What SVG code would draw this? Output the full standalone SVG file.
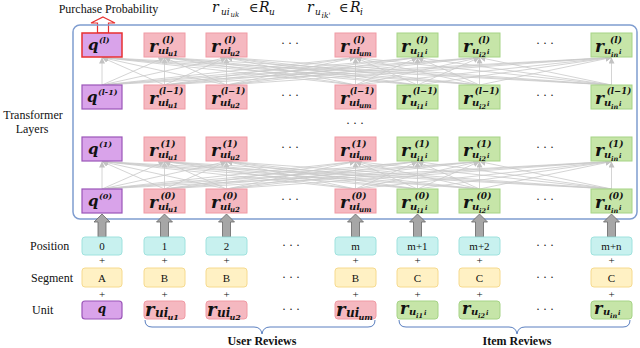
<svg xmlns="http://www.w3.org/2000/svg" width="640" height="348" viewBox="0 0 640 348">
<defs>
<style>
.t{font-family:"Liberation Serif","DejaVu Serif",serif;fill:#111}
.m{font-family:"DejaVu Serif","Liberation Serif",serif;font-style:italic;font-weight:bold;fill:#111}
.mn{font-family:"DejaVu Serif","Liberation Serif",serif;font-style:italic;fill:#111}
.b{font-family:"Liberation Serif","DejaVu Serif",serif;font-weight:bold;fill:#111}
.pq{fill:#d9a3ea;stroke:#9a55b8;stroke-width:1.2}
.pk{fill:#f5b8c0;stroke:#f09aa4;stroke-width:1}
.gr{fill:#c6e5a8;stroke:#a6d386;stroke-width:1}
.cy{fill:#c8f1ef;stroke:#9fe2de;stroke-width:1}
.ye{fill:#fff1c4;stroke:#f6da8e;stroke-width:1}
.c line{stroke:#c9c9c9;stroke-width:0.8;marker-end:url(#ah)}
.ba{fill:#a6a6a6;stroke:#666;stroke-width:0.8}
.br{fill:none;stroke:#5a7fc0;stroke-width:1}
</style>
<marker id="ah" markerUnits="userSpaceOnUse" markerWidth="6" markerHeight="6" refX="6" refY="3" orient="auto"><path d="M0,0 L6,3 L0,6 z" fill="#c2c2c2"/></marker>
</defs>
<rect width="640" height="348" fill="#fff"/>

<!-- top labels -->
<text class="t" x="108.5" y="13" font-size="12" text-anchor="middle">Purchase Probability</text>
<g id="lbl-ru">
<text class="mn" x="212" y="12" font-size="14">r</text>
<text class="mn" x="221" y="15" font-size="9">ui</text>
<text class="mn" x="230.5" y="17" font-size="7">uk</text>
<text class="t" x="249" y="12" font-size="13">∈</text>
<text class="mn" x="259" y="12" font-size="14">R</text>
<text class="mn" x="269" y="15" font-size="9">u</text>
</g>
<g id="lbl-ri">
<text class="mn" x="307" y="12" font-size="14">r</text>
<text class="mn" x="315" y="15" font-size="9">u</text>
<text class="mn" x="321.5" y="18" font-size="7.5">ik'</text>
<text class="t" x="339" y="12" font-size="13">∈</text>
<text class="mn" x="350" y="12" font-size="14">R</text>
<text class="mn" x="360" y="15" font-size="9">i</text>
</g>
<polygon id="out-arrow" points="103,17 115,23 108.5,23 108.5,33 97.5,33 97.5,23 91,23" fill="#fff" stroke="#e83030" stroke-width="1.2"/>

<text class="t" x="33" y="119" font-size="12" text-anchor="middle">Transformer</text>
<text class="t" x="32" y="133" font-size="12" text-anchor="middle">Layers</text>

<rect id="frame" x="73" y="25" width="564" height="194" rx="7" fill="none" stroke="#7f9dd0" stroke-width="1.5"/>

<!-- connectors -->
<g id="connectors" class="c">
<g id="mesh-top">
<line x1="102" y1="85" x2="102" y2="57.5"/><line x1="102" y1="85" x2="164.5" y2="57.5"/><line x1="102" y1="85" x2="226.5" y2="57.5"/><line x1="102" y1="85" x2="355.5" y2="57.5"/><line x1="102" y1="85" x2="417.5" y2="57.5"/><line x1="102" y1="85" x2="479.5" y2="57.5"/><line x1="102" y1="85" x2="611.5" y2="57.5"/>
<line x1="164.5" y1="85" x2="102" y2="57.5"/><line x1="164.5" y1="85" x2="164.5" y2="57.5"/><line x1="164.5" y1="85" x2="226.5" y2="57.5"/><line x1="164.5" y1="85" x2="355.5" y2="57.5"/><line x1="164.5" y1="85" x2="417.5" y2="57.5"/><line x1="164.5" y1="85" x2="479.5" y2="57.5"/><line x1="164.5" y1="85" x2="611.5" y2="57.5"/>
<line x1="226.5" y1="85" x2="102" y2="57.5"/><line x1="226.5" y1="85" x2="164.5" y2="57.5"/><line x1="226.5" y1="85" x2="226.5" y2="57.5"/><line x1="226.5" y1="85" x2="355.5" y2="57.5"/><line x1="226.5" y1="85" x2="417.5" y2="57.5"/><line x1="226.5" y1="85" x2="479.5" y2="57.5"/><line x1="226.5" y1="85" x2="611.5" y2="57.5"/>
<line x1="355.5" y1="85" x2="102" y2="57.5"/><line x1="355.5" y1="85" x2="164.5" y2="57.5"/><line x1="355.5" y1="85" x2="226.5" y2="57.5"/><line x1="355.5" y1="85" x2="355.5" y2="57.5"/><line x1="355.5" y1="85" x2="417.5" y2="57.5"/><line x1="355.5" y1="85" x2="479.5" y2="57.5"/><line x1="355.5" y1="85" x2="611.5" y2="57.5"/>
<line x1="417.5" y1="85" x2="102" y2="57.5"/><line x1="417.5" y1="85" x2="164.5" y2="57.5"/><line x1="417.5" y1="85" x2="226.5" y2="57.5"/><line x1="417.5" y1="85" x2="355.5" y2="57.5"/><line x1="417.5" y1="85" x2="417.5" y2="57.5"/><line x1="417.5" y1="85" x2="479.5" y2="57.5"/><line x1="417.5" y1="85" x2="611.5" y2="57.5"/>
<line x1="479.5" y1="85" x2="102" y2="57.5"/><line x1="479.5" y1="85" x2="164.5" y2="57.5"/><line x1="479.5" y1="85" x2="226.5" y2="57.5"/><line x1="479.5" y1="85" x2="355.5" y2="57.5"/><line x1="479.5" y1="85" x2="417.5" y2="57.5"/><line x1="479.5" y1="85" x2="479.5" y2="57.5"/><line x1="479.5" y1="85" x2="611.5" y2="57.5"/>
<line x1="611.5" y1="85" x2="102" y2="57.5"/><line x1="611.5" y1="85" x2="164.5" y2="57.5"/><line x1="611.5" y1="85" x2="226.5" y2="57.5"/><line x1="611.5" y1="85" x2="355.5" y2="57.5"/><line x1="611.5" y1="85" x2="417.5" y2="57.5"/><line x1="611.5" y1="85" x2="479.5" y2="57.5"/><line x1="611.5" y1="85" x2="611.5" y2="57.5"/>
</g>
<g id="mesh-bottom">
<line x1="102" y1="189" x2="102" y2="161.5"/><line x1="102" y1="189" x2="164.5" y2="161.5"/><line x1="102" y1="189" x2="226.5" y2="161.5"/><line x1="102" y1="189" x2="355.5" y2="161.5"/><line x1="102" y1="189" x2="417.5" y2="161.5"/><line x1="102" y1="189" x2="479.5" y2="161.5"/><line x1="102" y1="189" x2="611.5" y2="161.5"/>
<line x1="164.5" y1="189" x2="102" y2="161.5"/><line x1="164.5" y1="189" x2="164.5" y2="161.5"/><line x1="164.5" y1="189" x2="226.5" y2="161.5"/><line x1="164.5" y1="189" x2="355.5" y2="161.5"/><line x1="164.5" y1="189" x2="417.5" y2="161.5"/><line x1="164.5" y1="189" x2="479.5" y2="161.5"/><line x1="164.5" y1="189" x2="611.5" y2="161.5"/>
<line x1="226.5" y1="189" x2="102" y2="161.5"/><line x1="226.5" y1="189" x2="164.5" y2="161.5"/><line x1="226.5" y1="189" x2="226.5" y2="161.5"/><line x1="226.5" y1="189" x2="355.5" y2="161.5"/><line x1="226.5" y1="189" x2="417.5" y2="161.5"/><line x1="226.5" y1="189" x2="479.5" y2="161.5"/><line x1="226.5" y1="189" x2="611.5" y2="161.5"/>
<line x1="355.5" y1="189" x2="102" y2="161.5"/><line x1="355.5" y1="189" x2="164.5" y2="161.5"/><line x1="355.5" y1="189" x2="226.5" y2="161.5"/><line x1="355.5" y1="189" x2="355.5" y2="161.5"/><line x1="355.5" y1="189" x2="417.5" y2="161.5"/><line x1="355.5" y1="189" x2="479.5" y2="161.5"/><line x1="355.5" y1="189" x2="611.5" y2="161.5"/>
<line x1="417.5" y1="189" x2="102" y2="161.5"/><line x1="417.5" y1="189" x2="164.5" y2="161.5"/><line x1="417.5" y1="189" x2="226.5" y2="161.5"/><line x1="417.5" y1="189" x2="355.5" y2="161.5"/><line x1="417.5" y1="189" x2="417.5" y2="161.5"/><line x1="417.5" y1="189" x2="479.5" y2="161.5"/><line x1="417.5" y1="189" x2="611.5" y2="161.5"/>
<line x1="479.5" y1="189" x2="102" y2="161.5"/><line x1="479.5" y1="189" x2="164.5" y2="161.5"/><line x1="479.5" y1="189" x2="226.5" y2="161.5"/><line x1="479.5" y1="189" x2="355.5" y2="161.5"/><line x1="479.5" y1="189" x2="417.5" y2="161.5"/><line x1="479.5" y1="189" x2="479.5" y2="161.5"/><line x1="479.5" y1="189" x2="611.5" y2="161.5"/>
<line x1="611.5" y1="189" x2="102" y2="161.5"/><line x1="611.5" y1="189" x2="164.5" y2="161.5"/><line x1="611.5" y1="189" x2="226.5" y2="161.5"/><line x1="611.5" y1="189" x2="355.5" y2="161.5"/><line x1="611.5" y1="189" x2="417.5" y2="161.5"/><line x1="611.5" y1="189" x2="479.5" y2="161.5"/><line x1="611.5" y1="189" x2="611.5" y2="161.5"/>
</g>
<g id="input-arrows">
<polygon class="ba" points="102,214 110,222 106,222 106,237 98,237 98,222 94,222"/>
<polygon class="ba" points="164.5,214 172.5,222 168.5,222 168.5,237 160.5,237 160.5,222 156.5,222"/>
<polygon class="ba" points="226.5,214 234.5,222 230.5,222 230.5,237 222.5,237 222.5,222 218.5,222"/>
<polygon class="ba" points="355.5,214 363.5,222 359.5,222 359.5,237 351.5,237 351.5,222 347.5,222"/>
<polygon class="ba" points="417.5,214 425.5,222 421.5,222 421.5,237 413.5,237 413.5,222 409.5,222"/>
<polygon class="ba" points="479.5,214 487.5,222 483.5,222 483.5,237 475.5,237 475.5,222 471.5,222"/>
<polygon class="ba" points="611.5,214 619.5,222 615.5,222 615.5,237 607.5,237 607.5,222 603.5,222"/>
</g>
</g>

<!-- layer l -->
<g id="q-l"><rect x="82" y="33" width="40" height="24" fill="#d9a3ea" stroke="#e83030" stroke-width="1.5"/><text class="m" x="88" y="50" font-size="15">q</text><text class="m" x="99" y="43" font-size="8">(l)</text></g>
<g id="r-l-u1"><rect class="pk" x="144" y="33" width="41" height="24"/><text class="m" x="149" y="52" font-size="17">r</text><text class="m" x="168" y="43" font-size="9" text-anchor="middle">(l)</text><text class="m" x="158" y="54" font-size="10">ui</text><text class="m" x="168" y="56" font-size="7">u1</text></g>
<g id="r-l-u2"><rect class="pk" x="206" y="33" width="41" height="24"/><text class="m" x="211" y="52" font-size="17">r</text><text class="m" x="230" y="43" font-size="9" text-anchor="middle">(l)</text><text class="m" x="220" y="54" font-size="10">ui</text><text class="m" x="230" y="56" font-size="7">u2</text></g>
<g id="r-l-um"><rect class="pk" x="335" y="33" width="41" height="24"/><text class="m" x="340" y="52" font-size="17">r</text><text class="m" x="359" y="43" font-size="9" text-anchor="middle">(l)</text><text class="m" x="349" y="54" font-size="10">ui</text><text class="m" x="359" y="56" font-size="7">um</text></g>
<g id="r-l-i1"><rect class="gr" x="397" y="33" width="41" height="24"/><text class="m" x="401" y="52" font-size="17">r</text><text class="m" x="422" y="43" font-size="9" text-anchor="middle">(l)</text><text class="m" x="410" y="54" font-size="10">u</text><text class="m" x="417" y="57" font-size="6.5">i1</text><text class="m" x="425" y="54" font-size="6.5">i</text></g>
<g id="r-l-i2"><rect class="gr" x="459" y="33" width="41" height="24"/><text class="m" x="463" y="52" font-size="17">r</text><text class="m" x="484" y="43" font-size="9" text-anchor="middle">(l)</text><text class="m" x="472" y="54" font-size="10">u</text><text class="m" x="479" y="57" font-size="6.5">i2</text><text class="m" x="487" y="54" font-size="6.5">i</text></g>
<g id="r-l-in"><rect class="gr" x="591" y="33" width="41" height="24"/><text class="m" x="595" y="52" font-size="17">r</text><text class="m" x="616" y="43" font-size="9" text-anchor="middle">(l)</text><text class="m" x="604" y="54" font-size="10">u</text><text class="m" x="611" y="57" font-size="6.5">in</text><text class="m" x="619" y="54" font-size="6.5">i</text></g>

<!-- layer l-1 -->
<g id="q-l1"><rect class="pq" x="82" y="85" width="40" height="24"/><text class="m" x="87" y="102" font-size="15">q</text><text class="m" x="98" y="95" font-size="8">(l-1)</text></g>
<g id="r-l1-u1"><rect class="pk" x="144" y="85" width="41" height="24"/><text class="m" x="149" y="104" font-size="17">r</text><text class="m" x="171" y="94" font-size="8.5" text-anchor="middle">(l−1)</text><text class="m" x="158" y="106" font-size="10">ui</text><text class="m" x="168" y="108" font-size="7">u1</text></g>
<g id="r-l1-u2"><rect class="pk" x="206" y="85" width="41" height="24"/><text class="m" x="211" y="104" font-size="17">r</text><text class="m" x="233" y="94" font-size="8.5" text-anchor="middle">(l−1)</text><text class="m" x="220" y="106" font-size="10">ui</text><text class="m" x="230" y="108" font-size="7">u2</text></g>
<g id="r-l1-um"><rect class="pk" x="335" y="85" width="41" height="24"/><text class="m" x="340" y="104" font-size="17">r</text><text class="m" x="362" y="94" font-size="8.5" text-anchor="middle">(l−1)</text><text class="m" x="349" y="106" font-size="10">ui</text><text class="m" x="359" y="108" font-size="7">um</text></g>
<g id="r-l1-i1"><rect class="gr" x="397" y="85" width="41" height="24"/><text class="m" x="401" y="104" font-size="17">r</text><text class="m" x="425" y="94" font-size="8.5" text-anchor="middle">(l−1)</text><text class="m" x="410" y="106" font-size="10">u</text><text class="m" x="417" y="109" font-size="6.5">i1</text><text class="m" x="425" y="106" font-size="6.5">i</text></g>
<g id="r-l1-i2"><rect class="gr" x="459" y="85" width="41" height="24"/><text class="m" x="463" y="104" font-size="17">r</text><text class="m" x="487" y="94" font-size="8.5" text-anchor="middle">(l−1)</text><text class="m" x="472" y="106" font-size="10">u</text><text class="m" x="479" y="109" font-size="6.5">i2</text><text class="m" x="487" y="106" font-size="6.5">i</text></g>
<g id="r-l1-in"><rect class="gr" x="591" y="85" width="41" height="24"/><text class="m" x="595" y="104" font-size="17">r</text><text class="m" x="619" y="94" font-size="8.5" text-anchor="middle">(l−1)</text><text class="m" x="604" y="106" font-size="10">u</text><text class="m" x="611" y="109" font-size="6.5">in</text><text class="m" x="619" y="106" font-size="6.5">i</text></g>

<!-- layer 1 -->
<g id="q-1"><rect class="pq" x="82" y="137" width="40" height="24"/><text class="m" x="88" y="154" font-size="15">q</text><text class="m" x="99" y="147" font-size="8">(1)</text></g>
<g id="r-1-u1"><rect class="pk" x="144" y="137" width="41" height="24"/><text class="m" x="149" y="156" font-size="17">r</text><text class="m" x="168" y="147" font-size="9" text-anchor="middle">(1)</text><text class="m" x="158" y="158" font-size="10">ui</text><text class="m" x="168" y="160" font-size="7">u1</text></g>
<g id="r-1-u2"><rect class="pk" x="206" y="137" width="41" height="24"/><text class="m" x="211" y="156" font-size="17">r</text><text class="m" x="230" y="147" font-size="9" text-anchor="middle">(1)</text><text class="m" x="220" y="158" font-size="10">ui</text><text class="m" x="230" y="160" font-size="7">u2</text></g>
<g id="r-1-um"><rect class="pk" x="335" y="137" width="41" height="24"/><text class="m" x="340" y="156" font-size="17">r</text><text class="m" x="359" y="147" font-size="9" text-anchor="middle">(1)</text><text class="m" x="349" y="158" font-size="10">ui</text><text class="m" x="359" y="160" font-size="7">um</text></g>
<g id="r-1-i1"><rect class="gr" x="397" y="137" width="41" height="24"/><text class="m" x="401" y="156" font-size="17">r</text><text class="m" x="422" y="147" font-size="9" text-anchor="middle">(1)</text><text class="m" x="410" y="158" font-size="10">u</text><text class="m" x="417" y="161" font-size="6.5">i1</text><text class="m" x="425" y="158" font-size="6.5">i</text></g>
<g id="r-1-i2"><rect class="gr" x="459" y="137" width="41" height="24"/><text class="m" x="463" y="156" font-size="17">r</text><text class="m" x="484" y="147" font-size="9" text-anchor="middle">(1)</text><text class="m" x="472" y="158" font-size="10">u</text><text class="m" x="479" y="161" font-size="6.5">i2</text><text class="m" x="487" y="158" font-size="6.5">i</text></g>
<g id="r-1-in"><rect class="gr" x="591" y="137" width="41" height="24"/><text class="m" x="595" y="156" font-size="17">r</text><text class="m" x="616" y="147" font-size="9" text-anchor="middle">(1)</text><text class="m" x="604" y="158" font-size="10">u</text><text class="m" x="611" y="161" font-size="6.5">in</text><text class="m" x="619" y="158" font-size="6.5">i</text></g>

<!-- layer 0 -->
<g id="q-0"><rect class="pq" x="82" y="189" width="40" height="24"/><text class="m" x="88" y="206" font-size="15">q</text><text class="m" x="99" y="199" font-size="8">(0)</text></g>
<g id="r-0-u1"><rect class="pk" x="144" y="189" width="41" height="24"/><text class="m" x="149" y="208" font-size="17">r</text><text class="m" x="168" y="199" font-size="9" text-anchor="middle">(0)</text><text class="m" x="158" y="210" font-size="10">ui</text><text class="m" x="168" y="212" font-size="7">u1</text></g>
<g id="r-0-u2"><rect class="pk" x="206" y="189" width="41" height="24"/><text class="m" x="211" y="208" font-size="17">r</text><text class="m" x="230" y="199" font-size="9" text-anchor="middle">(0)</text><text class="m" x="220" y="210" font-size="10">ui</text><text class="m" x="230" y="212" font-size="7">u2</text></g>
<g id="r-0-um"><rect class="pk" x="335" y="189" width="41" height="24"/><text class="m" x="340" y="208" font-size="17">r</text><text class="m" x="359" y="199" font-size="9" text-anchor="middle">(0)</text><text class="m" x="349" y="210" font-size="10">ui</text><text class="m" x="359" y="212" font-size="7">um</text></g>
<g id="r-0-i1"><rect class="gr" x="397" y="189" width="41" height="24"/><text class="m" x="401" y="208" font-size="17">r</text><text class="m" x="422" y="199" font-size="9" text-anchor="middle">(0)</text><text class="m" x="410" y="210" font-size="10">u</text><text class="m" x="417" y="213" font-size="6.5">i1</text><text class="m" x="425" y="210" font-size="6.5">i</text></g>
<g id="r-0-i2"><rect class="gr" x="459" y="189" width="41" height="24"/><text class="m" x="463" y="208" font-size="17">r</text><text class="m" x="484" y="199" font-size="9" text-anchor="middle">(0)</text><text class="m" x="472" y="210" font-size="10">u</text><text class="m" x="479" y="213" font-size="6.5">i2</text><text class="m" x="487" y="210" font-size="6.5">i</text></g>
<g id="r-0-in"><rect class="gr" x="591" y="189" width="41" height="24"/><text class="m" x="595" y="208" font-size="17">r</text><text class="m" x="616" y="199" font-size="9" text-anchor="middle">(0)</text><text class="m" x="604" y="210" font-size="10">u</text><text class="m" x="611" y="213" font-size="6.5">in</text><text class="m" x="619" y="210" font-size="6.5">i</text></g>

<!-- ellipses -->
<g class="t" font-size="12" text-anchor="middle">
<text x="290" y="47">· · ·</text><text x="545" y="47">· · ·</text>
<text x="290" y="99">· · ·</text><text x="545" y="99">· · ·</text>
<text x="355" y="127">· · ·</text>
<text x="290" y="151">· · ·</text><text x="545" y="151">· · ·</text>
<text x="290" y="203">· · ·</text><text x="545" y="203">· · ·</text>
<text x="291" y="249">· · ·</text><text x="545" y="249">· · ·</text>
<text x="291" y="281">· · ·</text><text x="545" y="281">· · ·</text>
<text x="291" y="313">· · ·</text><text x="545" y="313">· · ·</text>
</g>

<!-- row labels -->
<text class="t" x="30" y="250" font-size="12">Position</text>
<text class="t" x="31" y="282" font-size="12">Segment</text>
<text class="t" x="32" y="314" font-size="12">Unit</text>

<!-- position row -->
<g id="pos-0"><rect class="cy" x="82" y="237" width="40" height="18" rx="3"/><text class="t" x="102" y="250" font-size="11" text-anchor="middle">0</text></g>
<g id="pos-1"><rect class="cy" x="144" y="237" width="41" height="18" rx="3"/><text class="t" x="164.5" y="250" font-size="11" text-anchor="middle">1</text></g>
<g id="pos-2"><rect class="cy" x="206" y="237" width="41" height="18" rx="3"/><text class="t" x="226.5" y="250" font-size="11" text-anchor="middle">2</text></g>
<g id="pos-m"><rect class="cy" x="335" y="237" width="41" height="18" rx="3"/><text class="t" x="355.5" y="250" font-size="11" text-anchor="middle">m</text></g>
<g id="pos-m1"><rect class="cy" x="397" y="237" width="41" height="18" rx="3"/><text class="t" x="417.5" y="250" font-size="11" text-anchor="middle">m+1</text></g>
<g id="pos-m2"><rect class="cy" x="459" y="237" width="41" height="18" rx="3"/><text class="t" x="479.5" y="250" font-size="11" text-anchor="middle">m+2</text></g>
<g id="pos-mn"><rect class="cy" x="591" y="237" width="41" height="18" rx="3"/><text class="t" x="611.5" y="250" font-size="11" text-anchor="middle">m+n</text></g>

<!-- plus signs -->
<g class="t" font-size="11" text-anchor="middle">
<text x="102" y="264">+</text><text x="164.5" y="264">+</text><text x="226.5" y="264">+</text><text x="355.5" y="264">+</text><text x="417.5" y="264">+</text><text x="479.5" y="264">+</text><text x="611.5" y="264">+</text>
<text x="102" y="298">+</text><text x="164.5" y="298">+</text><text x="226.5" y="298">+</text><text x="355.5" y="298">+</text><text x="417.5" y="298">+</text><text x="479.5" y="298">+</text><text x="611.5" y="298">+</text>
</g>

<!-- segment row -->
<g id="seg-0"><rect class="ye" x="82" y="268" width="40" height="19" rx="3"/><text class="t" x="102" y="282" font-size="11" text-anchor="middle">A</text></g>
<g id="seg-1"><rect class="ye" x="144" y="268" width="41" height="19" rx="3"/><text class="t" x="164.5" y="282" font-size="11" text-anchor="middle">B</text></g>
<g id="seg-2"><rect class="ye" x="206" y="268" width="41" height="19" rx="3"/><text class="t" x="226.5" y="282" font-size="11" text-anchor="middle">B</text></g>
<g id="seg-m"><rect class="ye" x="335" y="268" width="41" height="19" rx="3"/><text class="t" x="355.5" y="282" font-size="11" text-anchor="middle">B</text></g>
<g id="seg-m1"><rect class="ye" x="397" y="268" width="41" height="19" rx="3"/><text class="t" x="417.5" y="282" font-size="11" text-anchor="middle">C</text></g>
<g id="seg-m2"><rect class="ye" x="459" y="268" width="41" height="19" rx="3"/><text class="t" x="479.5" y="282" font-size="11" text-anchor="middle">C</text></g>
<g id="seg-mn"><rect class="ye" x="591" y="268" width="41" height="19" rx="3"/><text class="t" x="611.5" y="282" font-size="11" text-anchor="middle">C</text></g>

<!-- unit row -->
<g id="unit-q"><rect class="pq" x="82" y="301" width="40" height="18" rx="3"/><text class="m" x="102" y="313" font-size="12" text-anchor="middle">q</text></g>
<g id="unit-u1"><rect class="pk" x="144" y="301" width="41" height="18" rx="3"/><text class="m" x="145" y="316" font-size="18">r</text><text class="m" x="155" y="317" font-size="12">ui</text><text class="m" x="167.5" y="320" font-size="8">u1</text></g>
<g id="unit-u2"><rect class="pk" x="206" y="301" width="41" height="18" rx="3"/><text class="m" x="207" y="316" font-size="18">r</text><text class="m" x="217" y="317" font-size="12">ui</text><text class="m" x="229.5" y="320" font-size="8">u2</text></g>
<g id="unit-um"><rect class="pk" x="335" y="301" width="41" height="18" rx="3"/><text class="m" x="336" y="316" font-size="18">r</text><text class="m" x="346" y="317" font-size="12">ui</text><text class="m" x="358.5" y="320" font-size="8">um</text></g>
<g id="unit-i1"><rect class="gr" x="397" y="301" width="41" height="18" rx="3"/><text class="m" x="400" y="314" font-size="16">r</text><text class="m" x="409" y="315" font-size="10">u</text><text class="m" x="416" y="318" font-size="6.5">i1</text><text class="m" x="424" y="315" font-size="6.5">i</text></g>
<g id="unit-i2"><rect class="gr" x="459" y="301" width="41" height="18" rx="3"/><text class="m" x="462" y="314" font-size="16">r</text><text class="m" x="471" y="315" font-size="10">u</text><text class="m" x="478" y="318" font-size="6.5">i2</text><text class="m" x="486" y="315" font-size="6.5">i</text></g>
<g id="unit-in"><rect class="gr" x="591" y="301" width="41" height="18" rx="3"/><text class="m" x="594" y="314" font-size="16">r</text><text class="m" x="603" y="315" font-size="10">u</text><text class="m" x="610" y="318" font-size="6.5">in</text><text class="m" x="618" y="315" font-size="6.5">i</text></g>

<!-- braces -->
<path class="br" d="M145,320 Q145,327 152,327 L254,327 Q261,327 262,334 Q263,327 270,327 L368,327 Q375,327 375,320"/>
<path class="br" d="M399,320 Q399,327 406,327 L509,327 Q516,327 517,334 Q518,327 525,327 L623,327 Q630,327 630,320"/>
<text class="b" x="262" y="345" font-size="12" text-anchor="middle">User Reviews</text>
<text class="b" x="517" y="345" font-size="12" text-anchor="middle">Item Reviews</text>
</svg>
